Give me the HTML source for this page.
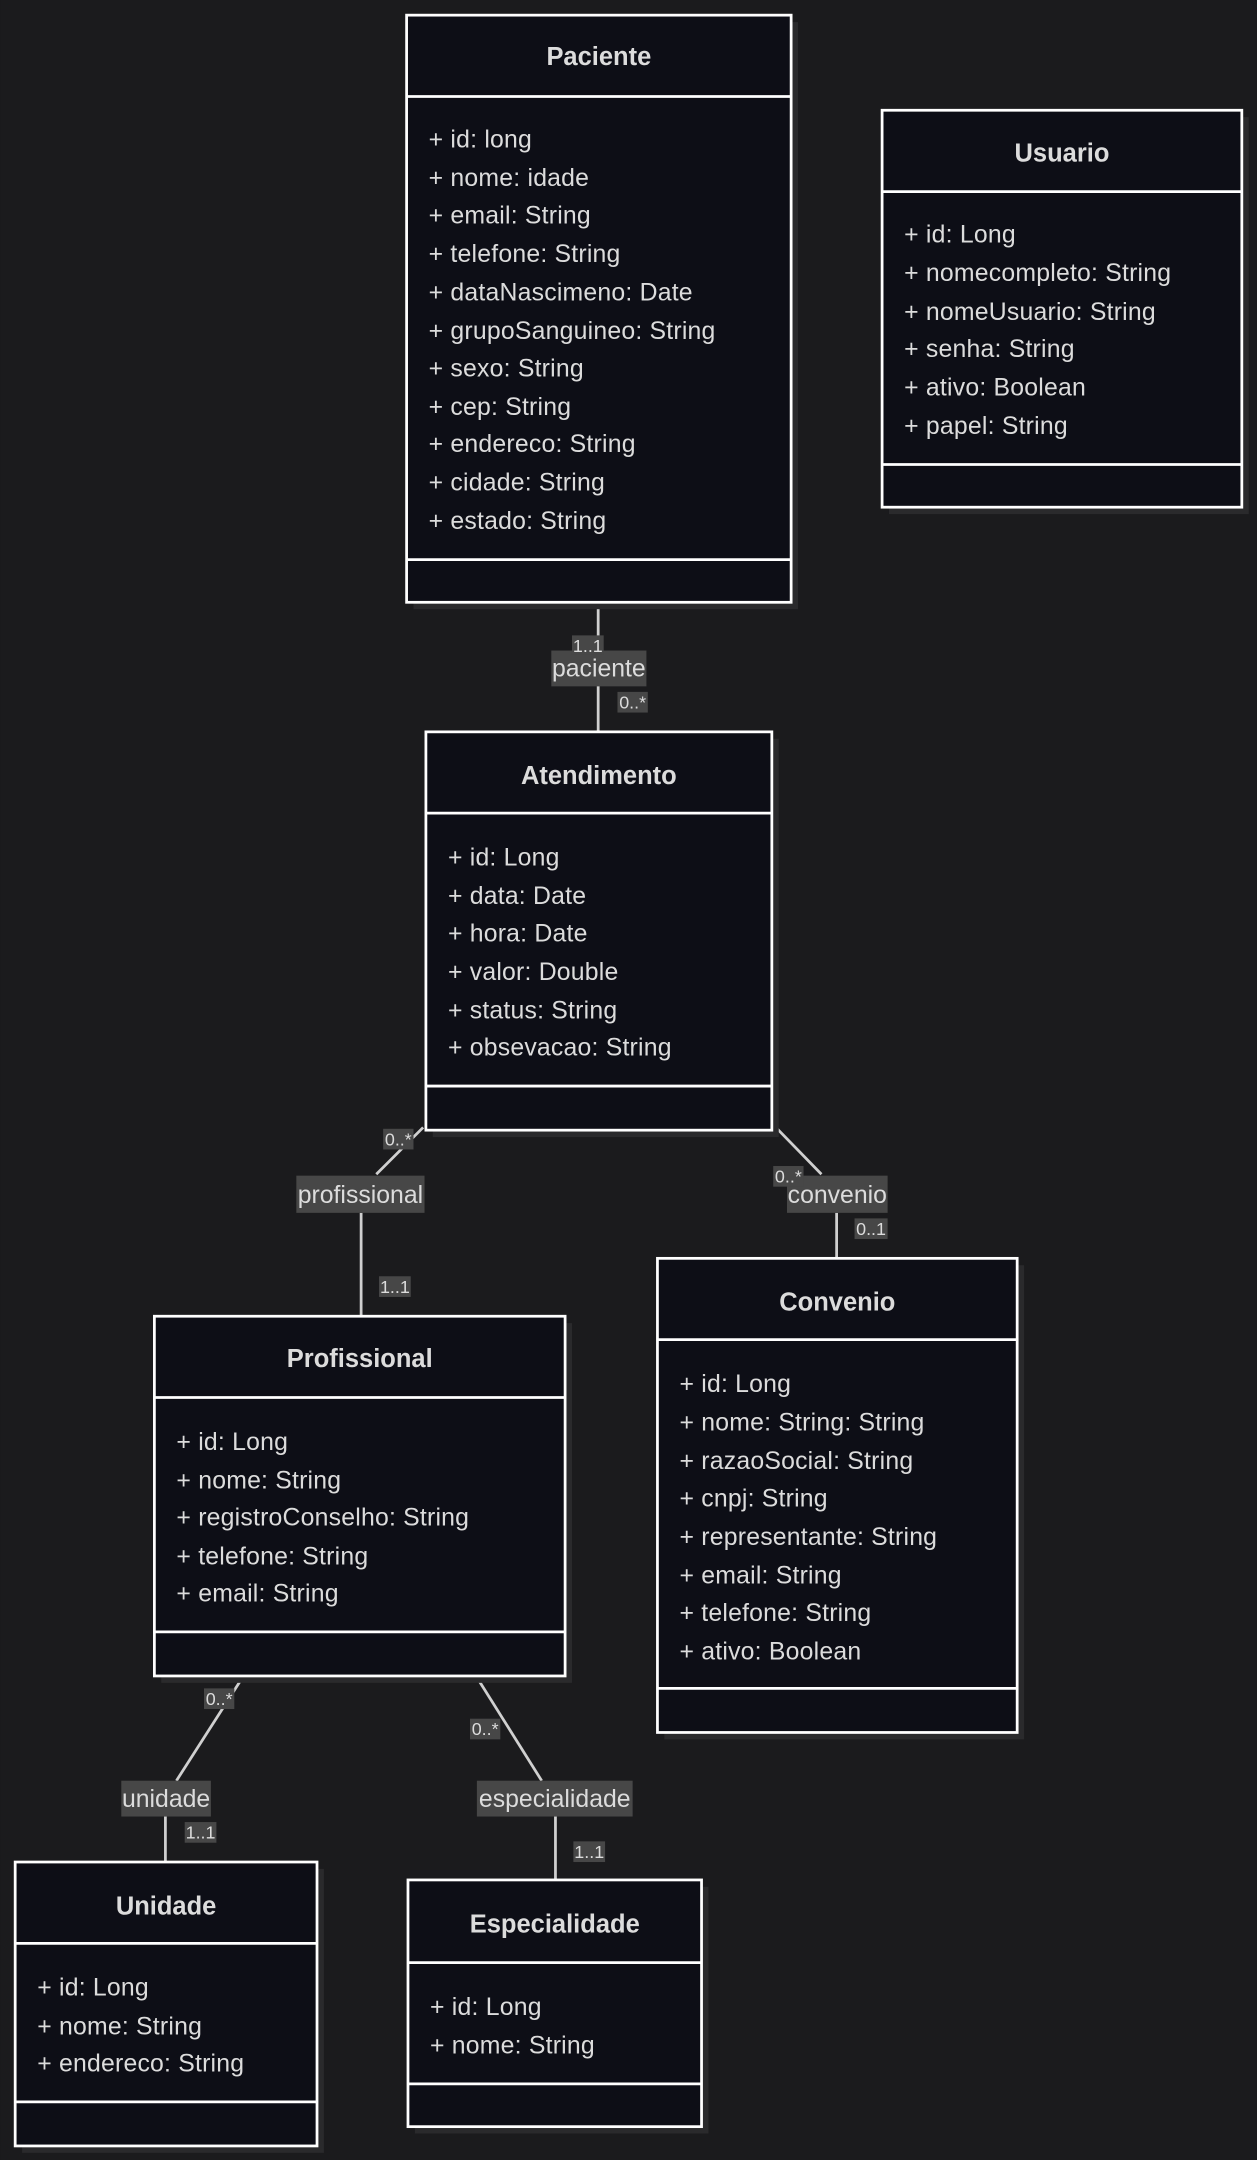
<!DOCTYPE html>
<html><head><meta charset="utf-8"><style>
html,body{margin:0;padding:0;background:#1b1b1d;}
svg{display:block;}
text{font-family:"Liberation Sans",Arial,sans-serif;fill:#dcdcdc;}
.t{font-weight:bold;font-size:18.5px;text-anchor:middle;}
.a{font-size:18px;letter-spacing:0.15px;}
.e{font-size:18px;text-anchor:middle;}
.m{font-size:13px;text-anchor:middle;}
.box{fill:#0d0e16;stroke:#ffffff;stroke-width:2;}
.sh{fill:#2a2a2c;}
.ln{stroke:#ffffff;stroke-width:2;}
.cn{stroke:#d0d0d0;stroke-width:2;fill:none;}
.lb{fill:#474747;}
</style></head><body>
<svg width="1257" height="2160" viewBox="0 0 912 1567.2" xmlns="http://www.w3.org/2000/svg">
<rect width="912" height="1568" fill="#1b1b1d"/>

<line class="cn" x1="434" y1="437" x2="434" y2="531"/>
<polyline class="cn" points="307,818 273,852"/>
<line class="cn" x1="262" y1="880" x2="262" y2="955"/>
<polyline class="cn" points="561,816 596,852"/>
<line class="cn" x1="607" y1="880" x2="607" y2="913"/>
<polyline class="cn" points="176,1217 128,1292"/>
<line class="cn" x1="120" y1="1318" x2="120" y2="1351"/>
<polyline class="cn" points="346,1217 393,1292"/>
<line class="cn" x1="403" y1="1318" x2="403" y2="1364"/>

<rect class="sh" x="300" y="16" width="279" height="426"/>
<rect class="box" x="295" y="11" width="279" height="426"/>
<line class="ln" x1="295" y1="70" x2="574" y2="70"/>
<line class="ln" x1="295" y1="406" x2="574" y2="406"/>
<text class="t" x="434.5" y="47">Paciente</text>
<text class="a" x="311" y="107">+ id: long</text>
<text class="a" x="311" y="135">+ nome: idade</text>
<text class="a" x="311" y="162">+ email: String</text>
<text class="a" x="311" y="190">+ telefone: String</text>
<text class="a" x="311" y="218">+ dataNascimeno: Date</text>
<text class="a" x="311" y="246">+ grupoSanguineo: String</text>
<text class="a" x="311" y="273">+ sexo: String</text>
<text class="a" x="311" y="301">+ cep: String</text>
<text class="a" x="311" y="328">+ endereco: String</text>
<text class="a" x="311" y="356">+ cidade: String</text>
<text class="a" x="311" y="384">+ estado: String</text>

<rect class="sh" x="645" y="85" width="261" height="288"/>
<rect class="box" x="640" y="80" width="261" height="288"/>
<line class="ln" x1="640" y1="139" x2="901" y2="139"/>
<line class="ln" x1="640" y1="337" x2="901" y2="337"/>
<text class="t" x="770.5" y="117">Usuario</text>
<text class="a" x="656" y="176">+ id: Long</text>
<text class="a" x="656" y="204">+ nomecompleto: String</text>
<text class="a" x="656" y="232">+ nomeUsuario: String</text>
<text class="a" x="656" y="259">+ senha: String</text>
<text class="a" x="656" y="287">+ ativo: Boolean</text>
<text class="a" x="656" y="315">+ papel: String</text>

<rect class="sh" x="314" y="536" width="251" height="289"/>
<rect class="box" x="309" y="531" width="251" height="289"/>
<line class="ln" x1="309" y1="590" x2="560" y2="590"/>
<line class="ln" x1="309" y1="788" x2="560" y2="788"/>
<text class="t" x="434.5" y="569">Atendimento</text>
<text class="a" x="325" y="628">+ id: Long</text>
<text class="a" x="325" y="656">+ data: Date</text>
<text class="a" x="325" y="683">+ hora: Date</text>
<text class="a" x="325" y="711">+ valor: Double</text>
<text class="a" x="325" y="739">+ status: String</text>
<text class="a" x="325" y="766">+ obsevacao: String</text>

<rect class="sh" x="482" y="918" width="261" height="344"/>
<rect class="box" x="477" y="913" width="261" height="344"/>
<line class="ln" x1="477" y1="972" x2="738" y2="972"/>
<line class="ln" x1="477" y1="1225" x2="738" y2="1225"/>
<text class="t" x="607.5" y="951">Convenio</text>
<text class="a" x="493" y="1010">+ id: Long</text>
<text class="a" x="493" y="1038">+ nome: String: String</text>
<text class="a" x="493" y="1066">+ razaoSocial: String</text>
<text class="a" x="493" y="1093">+ cnpj: String</text>
<text class="a" x="493" y="1121">+ representante: String</text>
<text class="a" x="493" y="1149">+ email: String</text>
<text class="a" x="493" y="1176">+ telefone: String</text>
<text class="a" x="493" y="1204">+ ativo: Boolean</text>

<rect class="sh" x="117" y="960" width="298" height="261"/>
<rect class="box" x="112" y="955" width="298" height="261"/>
<line class="ln" x1="112" y1="1014" x2="410" y2="1014"/>
<line class="ln" x1="112" y1="1184" x2="410" y2="1184"/>
<text class="t" x="261" y="992">Profissional</text>
<text class="a" x="128" y="1052">+ id: Long</text>
<text class="a" x="128" y="1080">+ nome: String</text>
<text class="a" x="128" y="1107">+ registroConselho: String</text>
<text class="a" x="128" y="1135">+ telefone: String</text>
<text class="a" x="128" y="1162">+ email: String</text>

<rect class="sh" x="16" y="1356" width="219" height="206"/>
<rect class="box" x="11" y="1351" width="219" height="206"/>
<line class="ln" x1="11" y1="1410" x2="230" y2="1410"/>
<line class="ln" x1="11" y1="1525" x2="230" y2="1525"/>
<text class="t" x="120.5" y="1389">Unidade</text>
<text class="a" x="27" y="1448">+ id: Long</text>
<text class="a" x="27" y="1476">+ nome: String</text>
<text class="a" x="27" y="1503">+ endereco: String</text>

<rect class="sh" x="301" y="1369" width="213" height="179"/>
<rect class="box" x="296" y="1364" width="213" height="179"/>
<line class="ln" x1="296" y1="1424" x2="509" y2="1424"/>
<line class="ln" x1="296" y1="1512" x2="509" y2="1512"/>
<text class="t" x="402.5" y="1402">Especialidade</text>
<text class="a" x="312" y="1462">+ id: Long</text>
<text class="a" x="312" y="1490">+ nome: String</text>

<rect class="lb" x="400" y="472" width="69" height="26"/>
<text class="e" x="434.5" y="491">paciente</text>
<rect class="lb" x="415" y="461" width="23" height="14"/>
<text class="m" x="426.5" y="473">1..1</text>
<rect class="lb" x="448" y="502" width="22" height="15"/>
<text class="m" x="459" y="514">0..*</text>

<rect class="lb" x="215" y="853" width="93" height="27"/>
<text class="e" x="261.5" y="873">profissional</text>
<rect class="lb" x="278" y="819" width="22" height="15"/>
<text class="m" x="289" y="831">0..*</text>
<rect class="lb" x="275" y="926" width="23" height="15"/>
<text class="m" x="286.5" y="938">1..1</text>

<rect class="lb" x="571" y="853" width="73" height="27"/>
<text class="e" x="607.5" y="873">convenio</text>
<rect class="lb" x="561" y="846" width="22" height="15"/>
<text class="m" x="572" y="858">0..*</text>
<rect class="lb" x="620" y="884" width="24" height="15"/>
<text class="m" x="632" y="896">0..1</text>

<rect class="lb" x="88" y="1292" width="65" height="26"/>
<text class="e" x="120.5" y="1311">unidade</text>
<rect class="lb" x="148" y="1225" width="22" height="15"/>
<text class="m" x="159" y="1237">0..*</text>
<rect class="lb" x="134" y="1322" width="23" height="15"/>
<text class="m" x="145.5" y="1334">1..1</text>

<rect class="lb" x="346" y="1292" width="113" height="26"/>
<text class="e" x="402.5" y="1311">especialidade</text>
<rect class="lb" x="341" y="1247" width="22" height="15"/>
<text class="m" x="352" y="1259">0..*</text>
<rect class="lb" x="416" y="1336" width="23" height="15"/>
<text class="m" x="427.5" y="1348">1..1</text>
</svg>
</body></html>
